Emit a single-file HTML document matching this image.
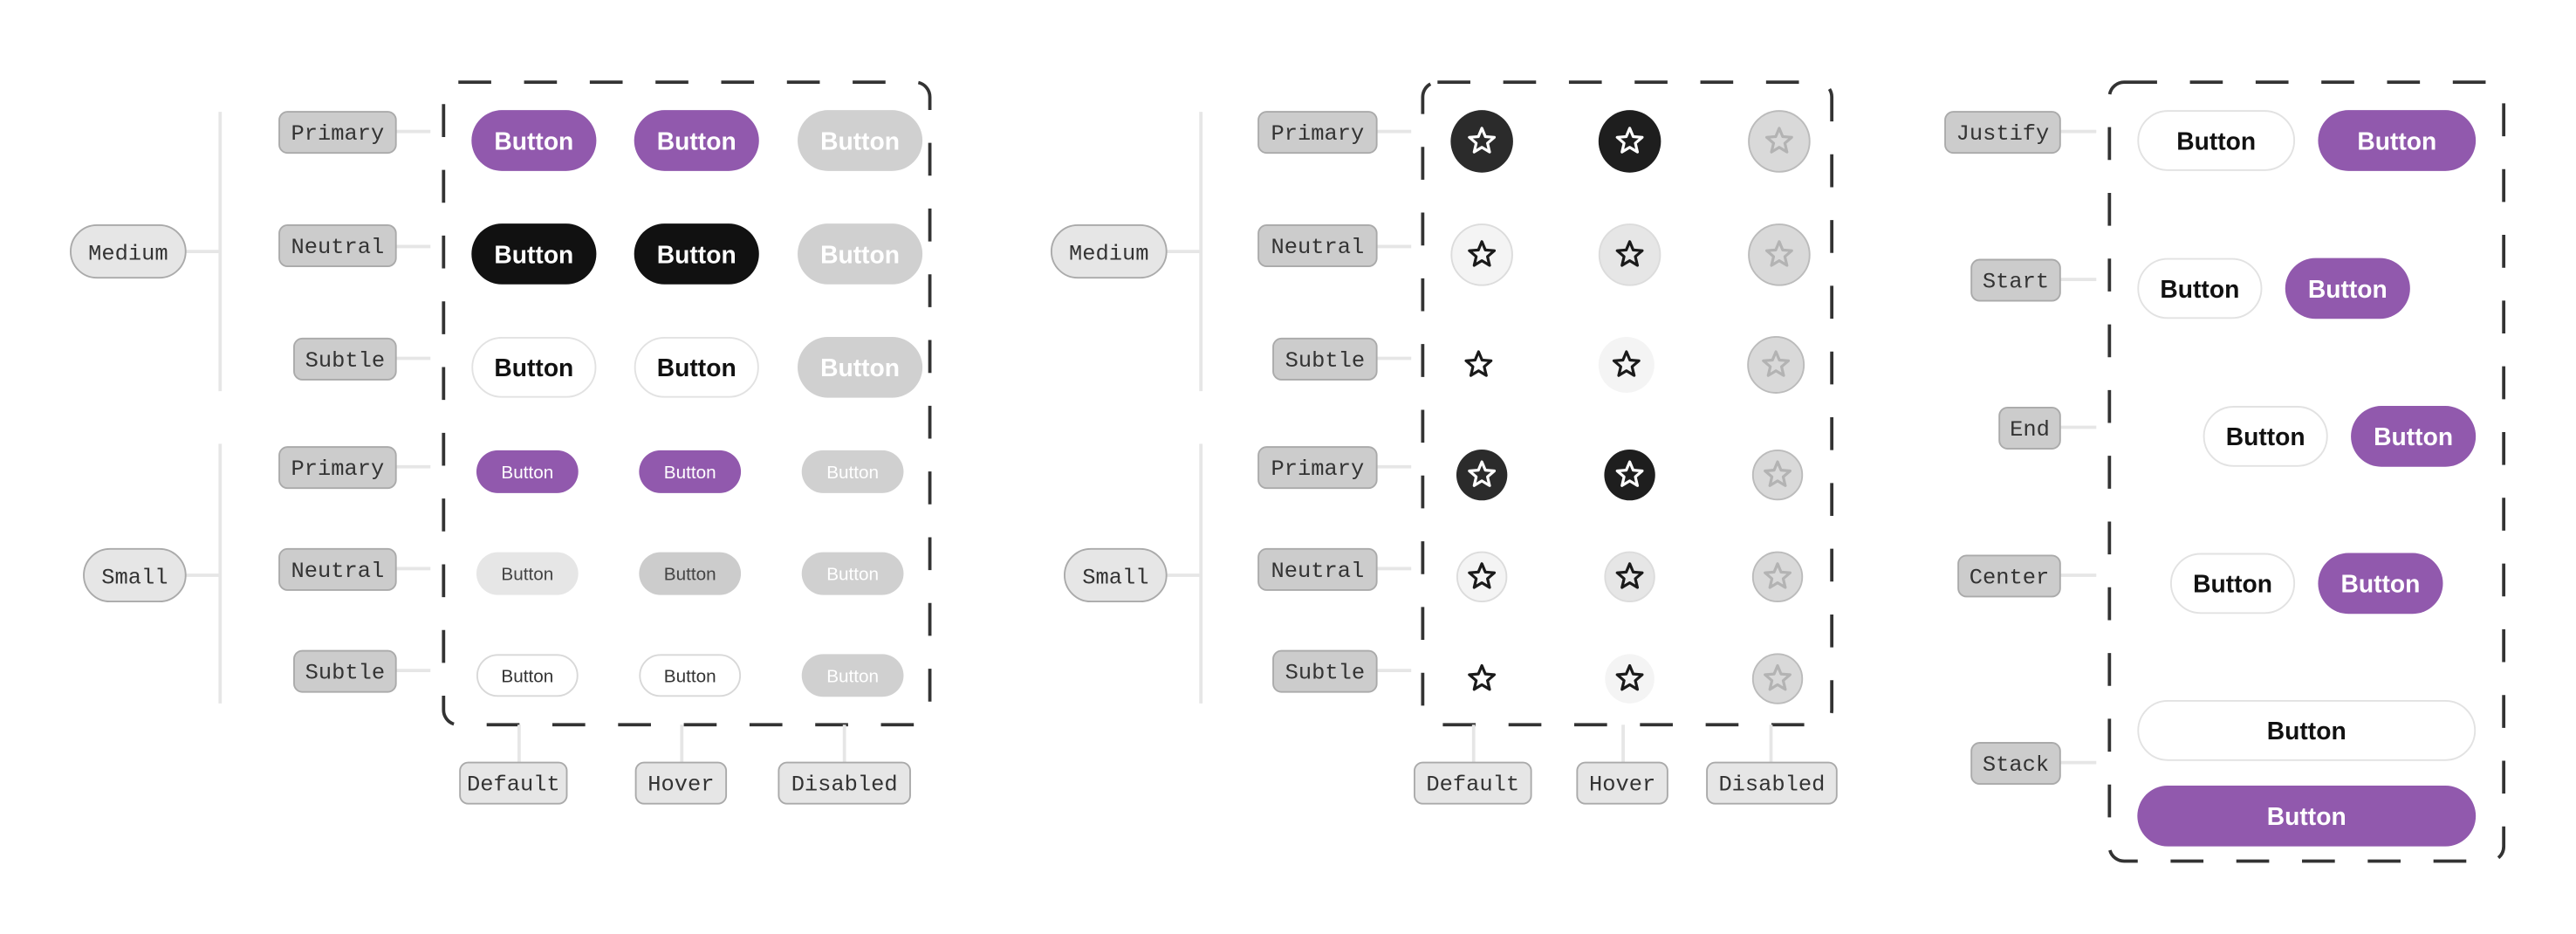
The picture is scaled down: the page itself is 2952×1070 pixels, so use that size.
<!DOCTYPE html>
<html><head><meta charset="utf-8"><style>
html,body{margin:0;padding:0;background:#fff;}
svg{display:block;}
.m{font-family:"Liberation Mono",monospace;font-size:13.5px;fill:#333;text-anchor:middle;}
.b{font-family:"Liberation Sans",sans-serif;font-size:15px;font-weight:bold;text-anchor:middle;}
.s{font-family:"Liberation Sans",sans-serif;font-size:11px;text-anchor:middle;}
.ln{stroke:#e6e6e6;stroke-width:2;fill:none;}
.lab{fill:#cccccc;stroke:#aaa;stroke-width:1;}
.pill{fill:#e6e6e6;stroke:#aaa;stroke-width:1;}
.box{fill:none;stroke:#333;stroke-width:2;stroke-dasharray:20 20;}
</style></head><body>
<svg width="2952" height="1070" viewBox="0 0 1568 568.3" xmlns="http://www.w3.org/2000/svg">
<defs>
<polygon id="st" points="0,-8 2.116,-2.912 7.608,-2.472 3.424,1.112 4.702,6.472 0,3.6 -4.702,6.472 -3.424,1.112 -7.608,-2.472 -2.116,-2.912" fill="none" stroke-width="1.7" stroke-linejoin="round"/>
</defs>

<!-- ============ LEFT SECTION ============ -->
<line class="ln" x1="134" y1="68" x2="134" y2="238"/>
<line class="ln" x1="134" y1="270" x2="134" y2="428"/>
<line class="ln" x1="113" y1="153" x2="134" y2="153"/>
<line class="ln" x1="113" y1="350" x2="134" y2="350"/>
<rect class="pill" x="43" y="137" width="70" height="32" rx="16"/><text class="m" x="78" y="158">Medium</text>
<rect class="pill" x="51" y="334" width="62" height="32" rx="16"/><text class="m" x="82" y="355">Small</text>

<g>
<line class="ln" x1="241" y1="80" x2="262" y2="80"/>
<line class="ln" x1="241" y1="150" x2="262" y2="150"/>
<line class="ln" x1="241" y1="218" x2="262" y2="218"/>
<line class="ln" x1="241" y1="284" x2="262" y2="284"/>
<line class="ln" x1="241" y1="346" x2="262" y2="346"/>
<line class="ln" x1="241" y1="408" x2="262" y2="408"/>
<rect class="lab" x="170" y="68" width="71" height="25" rx="5"/><text class="m" x="205.5" y="85">Primary</text>
<rect class="lab" x="170" y="137" width="71" height="25" rx="5"/><text class="m" x="205.5" y="154">Neutral</text>
<rect class="lab" x="179" y="206" width="62" height="25" rx="5"/><text class="m" x="210" y="223">Subtle</text>
<rect class="lab" x="170" y="272" width="71" height="25" rx="5"/><text class="m" x="205.5" y="289">Primary</text>
<rect class="lab" x="170" y="334" width="71" height="25" rx="5"/><text class="m" x="205.5" y="351">Neutral</text>
<rect class="lab" x="179" y="396" width="62" height="25" rx="5"/><text class="m" x="210" y="413">Subtle</text>
</g>

<rect class="box" x="270" y="50" width="296" height="391" rx="9"/>

<!-- medium buttons -->
<rect x="287" y="67" width="76" height="37" rx="18.5" fill="#9159ad"/><text class="b" x="325" y="91" fill="#fff">Button</text>
<rect x="386" y="67" width="76" height="37" rx="18.5" fill="#9159ad"/><text class="b" x="424" y="91" fill="#fff">Button</text>
<rect x="485.5" y="67" width="76" height="37" rx="18.5" fill="#d0d0d0"/><text class="b" x="523.5" y="91" fill="#fff">Button</text>
<rect x="287" y="136" width="76" height="37" rx="18.5" fill="#111"/><text class="b" x="325" y="160" fill="#fff">Button</text>
<rect x="386" y="136" width="76" height="37" rx="18.5" fill="#111"/><text class="b" x="424" y="160" fill="#fff">Button</text>
<rect x="485.5" y="136" width="76" height="37" rx="18.5" fill="#d0d0d0"/><text class="b" x="523.5" y="160" fill="#fff">Button</text>
<rect x="287.5" y="205.5" width="75" height="36" rx="18" fill="#fff" stroke="#e2e2e2"/><text class="b" x="325" y="229" fill="#111">Button</text>
<rect x="386.5" y="205.5" width="75" height="36" rx="18" fill="#fff" stroke="#e2e2e2"/><text class="b" x="424" y="229" fill="#111">Button</text>
<rect x="485.5" y="205" width="76" height="37" rx="18.5" fill="#d0d0d0"/><text class="b" x="523.5" y="229" fill="#fff">Button</text>

<!-- small buttons -->
<rect x="290" y="274" width="62" height="26" rx="13" fill="#9159ad"/><text class="s" x="321" y="291" fill="#fff">Button</text>
<rect x="389" y="274" width="62" height="26" rx="13" fill="#9159ad"/><text class="s" x="420" y="291" fill="#fff">Button</text>
<rect x="488" y="274" width="62" height="26" rx="13" fill="#d0d0d0"/><text class="s" x="519" y="291" fill="#fff">Button</text>
<rect x="290" y="336" width="62" height="26" rx="13" fill="#e6e6e6"/><text class="s" x="321" y="353" fill="#444">Button</text>
<rect x="389" y="336" width="62" height="26" rx="13" fill="#cccccc"/><text class="s" x="420" y="353" fill="#444">Button</text>
<rect x="488" y="336" width="62" height="26" rx="13" fill="#d0d0d0"/><text class="s" x="519" y="353" fill="#fff">Button</text>
<rect x="290.5" y="398.5" width="61" height="25" rx="12.5" fill="#fff" stroke="#d8d8d8"/><text class="s" x="321" y="415" fill="#333">Button</text>
<rect x="389.5" y="398.5" width="61" height="25" rx="12.5" fill="#fff" stroke="#d8d8d8"/><text class="s" x="420" y="415" fill="#333">Button</text>
<rect x="488" y="398" width="62" height="26" rx="13" fill="#d0d0d0"/><text class="s" x="519" y="415" fill="#fff">Button</text>

<line class="ln" x1="316" y1="441" x2="316" y2="464"/>
<line class="ln" x1="415" y1="441" x2="415" y2="464"/>
<line class="ln" x1="514" y1="441" x2="514" y2="464"/>
<rect class="pill" x="280" y="464" width="65" height="25" rx="5"/><text class="m" x="312.5" y="481">Default</text>
<rect class="pill" x="387" y="464" width="55" height="25" rx="5"/><text class="m" x="414.5" y="481">Hover</text>
<rect class="pill" x="474" y="464" width="80" height="25" rx="5"/><text class="m" x="514" y="481">Disabled</text>

<!-- ============ MIDDLE SECTION ============ -->
<line class="ln" x1="731" y1="68" x2="731" y2="238"/>
<line class="ln" x1="731" y1="270" x2="731" y2="428"/>
<line class="ln" x1="710" y1="153" x2="731" y2="153"/>
<line class="ln" x1="710" y1="350" x2="731" y2="350"/>
<rect class="pill" x="640" y="137" width="70" height="32" rx="16"/><text class="m" x="675" y="158">Medium</text>
<rect class="pill" x="648" y="334" width="62" height="32" rx="16"/><text class="m" x="679" y="355">Small</text>

<line class="ln" x1="838" y1="80" x2="859" y2="80"/>
<line class="ln" x1="838" y1="150" x2="859" y2="150"/>
<line class="ln" x1="838" y1="218" x2="859" y2="218"/>
<line class="ln" x1="838" y1="284" x2="859" y2="284"/>
<line class="ln" x1="838" y1="346" x2="859" y2="346"/>
<line class="ln" x1="838" y1="408" x2="859" y2="408"/>
<rect class="lab" x="766" y="68" width="72" height="25" rx="5"/><text class="m" x="802" y="85">Primary</text>
<rect class="lab" x="766" y="137" width="72" height="25" rx="5"/><text class="m" x="802" y="154">Neutral</text>
<rect class="lab" x="775" y="206" width="63" height="25" rx="5"/><text class="m" x="806.5" y="223">Subtle</text>
<rect class="lab" x="766" y="272" width="72" height="25" rx="5"/><text class="m" x="802" y="289">Primary</text>
<rect class="lab" x="766" y="334" width="72" height="25" rx="5"/><text class="m" x="802" y="351">Neutral</text>
<rect class="lab" x="775" y="396" width="63" height="25" rx="5"/><text class="m" x="806.5" y="413">Subtle</text>

<rect class="box" x="866" y="50" width="249" height="391" rx="9"/>

<!-- medium icons -->
<circle cx="902" cy="86" r="19" fill="#2b2b2b"/><use href="#st" x="902" y="86" stroke="#fff"/>
<circle cx="992" cy="86" r="19" fill="#1e1e1e"/><use href="#st" x="992" y="86" stroke="#fff"/>
<circle cx="1083" cy="86" r="18.5" fill="#d9d9d9" stroke="#bbb"/><use href="#st" x="1083" y="86" stroke="#b3b3b3"/>
<circle cx="902" cy="155" r="18.5" fill="#f4f4f4" stroke="#dcdcdc"/><use href="#st" x="902" y="155" stroke="#1a1a1a"/>
<circle cx="992" cy="155" r="18.5" fill="#e6e6e6" stroke="#dcdcdc"/><use href="#st" x="992" y="155" stroke="#1a1a1a"/>
<circle cx="1083" cy="155" r="18.5" fill="#d9d9d9" stroke="#bbb"/><use href="#st" x="1083" y="155" stroke="#b3b3b3"/>
<use href="#st" x="900" y="222" stroke="#1a1a1a"/>
<circle cx="990" cy="222" r="17" fill="#f4f4f4"/><use href="#st" x="990" y="222" stroke="#1a1a1a"/>
<circle cx="1081" cy="222" r="17" fill="#d9d9d9" stroke="#bbb"/><use href="#st" x="1081" y="222" stroke="#b3b3b3"/>

<!-- small icons -->
<circle cx="902" cy="289" r="15.5" fill="#2b2b2b"/><use href="#st" x="902" y="289" stroke="#fff"/>
<circle cx="992" cy="289" r="15.5" fill="#1e1e1e"/><use href="#st" x="992" y="289" stroke="#fff"/>
<circle cx="1082" cy="289" r="15" fill="#d9d9d9" stroke="#bbb"/><use href="#st" x="1082" y="289" stroke="#b3b3b3"/>
<circle cx="902" cy="351" r="15" fill="#f4f4f4" stroke="#dcdcdc"/><use href="#st" x="902" y="351" stroke="#1a1a1a"/>
<circle cx="992" cy="351" r="15" fill="#e6e6e6" stroke="#dcdcdc"/><use href="#st" x="992" y="351" stroke="#1a1a1a"/>
<circle cx="1082" cy="351" r="15" fill="#d9d9d9" stroke="#bbb"/><use href="#st" x="1082" y="351" stroke="#b3b3b3"/>
<use href="#st" x="902" y="413" stroke="#1a1a1a"/>
<circle cx="992" cy="413" r="15" fill="#f4f4f4"/><use href="#st" x="992" y="413" stroke="#1a1a1a"/>
<circle cx="1082" cy="413" r="15" fill="#d9d9d9" stroke="#bbb"/><use href="#st" x="1082" y="413" stroke="#b3b3b3"/>

<line class="ln" x1="897" y1="441" x2="897" y2="464"/>
<line class="ln" x1="988" y1="441" x2="988" y2="464"/>
<line class="ln" x1="1078" y1="441" x2="1078" y2="464"/>
<rect class="pill" x="861" y="464" width="71" height="25" rx="5"/><text class="m" x="896.5" y="481">Default</text>
<rect class="pill" x="960" y="464" width="55" height="25" rx="5"/><text class="m" x="987.5" y="481">Hover</text>
<rect class="pill" x="1039" y="464" width="79" height="25" rx="5"/><text class="m" x="1078.5" y="481">Disabled</text>

<!-- ============ RIGHT SECTION ============ -->
<line class="ln" x1="1254" y1="80" x2="1276" y2="80"/>
<line class="ln" x1="1254" y1="170" x2="1276" y2="170"/>
<line class="ln" x1="1254" y1="260" x2="1276" y2="260"/>
<line class="ln" x1="1254" y1="350" x2="1276" y2="350"/>
<line class="ln" x1="1254" y1="464" x2="1276" y2="464"/>
<rect class="lab" x="1184" y="68" width="70" height="25" rx="5"/><text class="m" x="1219" y="85">Justify</text>
<rect class="lab" x="1200" y="158" width="54" height="25" rx="5"/><text class="m" x="1227" y="175">Start</text>
<rect class="lab" x="1217" y="248" width="37" height="25" rx="5"/><text class="m" x="1235.5" y="265">End</text>
<rect class="lab" x="1192" y="338" width="62" height="25" rx="5"/><text class="m" x="1223" y="355">Center</text>
<rect class="lab" x="1200" y="452" width="54" height="25" rx="5"/><text class="m" x="1227" y="469">Stack</text>

<rect class="box" x="1284" y="50" width="240" height="474" rx="9"/>

<rect x="1301.5" y="67.5" width="95" height="36" rx="18" fill="#fff" stroke="#e2e2e2"/><text class="b" x="1349" y="91" fill="#111">Button</text>
<rect x="1411" y="67" width="96" height="37" rx="18.5" fill="#9159ad"/><text class="b" x="1459" y="91" fill="#fff">Button</text>
<rect x="1301.5" y="157.5" width="75" height="36" rx="18" fill="#fff" stroke="#e2e2e2"/><text class="b" x="1339" y="181" fill="#111">Button</text>
<rect x="1391" y="157" width="76" height="37" rx="18.5" fill="#9159ad"/><text class="b" x="1429" y="181" fill="#fff">Button</text>
<rect x="1341.5" y="247.5" width="75" height="36" rx="18" fill="#fff" stroke="#e2e2e2"/><text class="b" x="1379" y="271" fill="#111">Button</text>
<rect x="1431" y="247" width="76" height="37" rx="18.5" fill="#9159ad"/><text class="b" x="1469" y="271" fill="#fff">Button</text>
<rect x="1321.5" y="337" width="75" height="36" rx="18" fill="#fff" stroke="#e2e2e2"/><text class="b" x="1359" y="360.5" fill="#111">Button</text>
<rect x="1411" y="336.5" width="76" height="37" rx="18.5" fill="#9159ad"/><text class="b" x="1449" y="360.5" fill="#fff">Button</text>
<rect x="1301.5" y="426.5" width="205" height="36" rx="18" fill="#fff" stroke="#e2e2e2"/><text class="b" x="1404" y="450" fill="#111">Button</text>
<rect x="1301" y="478" width="206" height="37" rx="18.5" fill="#9159ad"/><text class="b" x="1404" y="502" fill="#fff">Button</text>
</svg>
</body></html>
